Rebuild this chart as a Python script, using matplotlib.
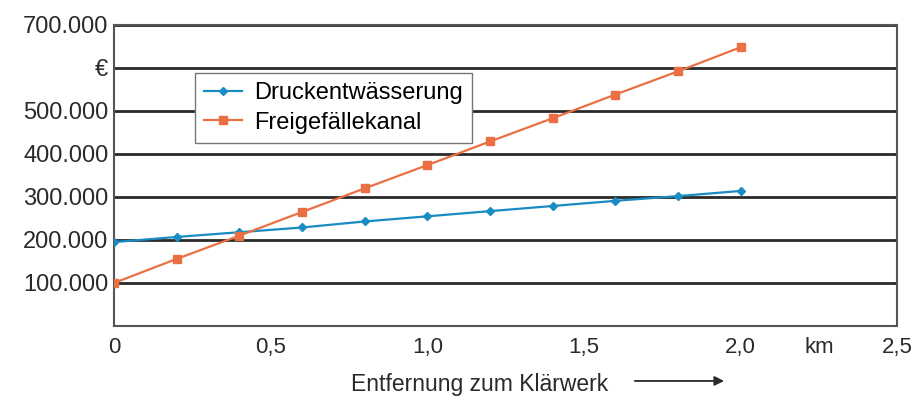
import matplotlib
matplotlib.use("Agg")
from matplotlib import pyplot as plt

plt.rcParams['font.family'] = ['Liberation Sans', 'DejaVu Sans']

km = [0.0, 0.2, 0.4, 0.6, 0.8, 1.0, 1.2, 1.4, 1.6, 1.8, 2.0]
druck = [195000, 207000, 218000, 229000, 243000, 255000, 267000, 279000, 291000, 302000, 314000]
freigefaelle = [100000, 156000, 210000, 265000, 320000, 374000, 429000, 483000, 538000, 592000, 648000]

yticks = [100000, 200000, 300000, 400000, 500000, 600000, 700000]
ylabels = ["100.000", "200.000", "300.000", "400.000", "500.000", "€", "700.000"]
xticks = [0, 0.5, 1.0, 1.5, 2.0, 2.25, 2.5]
xlabels = ["0", "0,5", "1,0", "1,5", "2,0", "km", "2,5"]

fig = plt.figure(figsize=(9.12, 4.01), dpi=100)
ax = fig.add_axes([0.125, 0.187, 0.859, 0.751])

for y in yticks:
    ax.axhline(y, color="#2a2a2a", lw=2.0, zorder=1)

ax.plot(km, druck, color="#1a8cc4", lw=1.6, marker="D", ms=4.5, label="Druckentwässerung", zorder=3)
ax.plot(km, freigefaelle, color="#ea7043", lw=1.6, marker="s", ms=5.5, label="Freigefällekanal", zorder=3)

ax.set_xlim(0, 2.5)
ax.set_ylim(0, 700000)
ax.set_yticks(yticks)
ax.set_yticklabels(ylabels)
ax.set_xticks(xticks)
ax.set_xticklabels(xlabels)
ax.tick_params(length=0, labelsize=17, colors="#2a2a2a")
ax.tick_params(axis="y", pad=4)
ax.tick_params(axis="x", pad=8, labelsize=16)
for s in ax.spines.values():
    s.set_color("#555555")
    s.set_linewidth(1.5)

ax.legend(loc="upper left", bbox_to_anchor=(0.103, 0.84), fontsize=17, frameon=True,
          fancybox=False, edgecolor="#777777", framealpha=1, borderpad=0.4,
          handlelength=1.6, handletextpad=0.5, labelspacing=0.3, borderaxespad=0)

fig.text(0.385, 0.025, "Entfernung zum Klärwerk", fontsize=16.5, ha="left", color="#2a2a2a")
fig.add_artist(matplotlib.patches.FancyArrowPatch((0.693, 0.05), (0.797, 0.05),
               transform=fig.transFigure, arrowstyle="-|>", mutation_scale=14,
               color="#2a2a2a", lw=1.3))

fig.savefig("out.png", dpi=100)
